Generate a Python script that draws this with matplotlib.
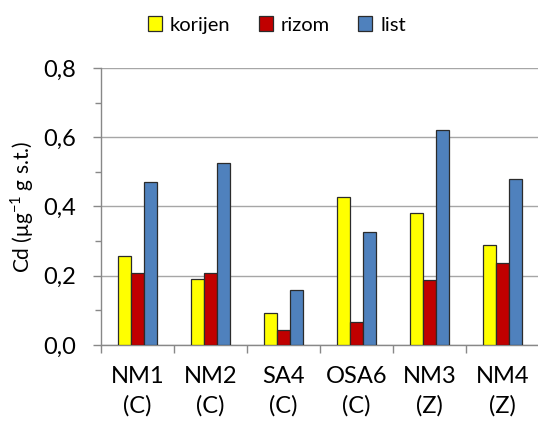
import numpy as np
import matplotlib
matplotlib.use('Agg')
from matplotlib import pyplot as plt
from matplotlib.ticker import MultipleLocator, FuncFormatter

plt.rcParams['font.family'] = ['Lato', 'DejaVu Sans']

categories = ['NM1\n(C)', 'NM2\n(C)', 'SA4\n(C)', 'OSA6\n(C)', 'NM3\n(Z)', 'NM4\n(Z)']
korijen = [0.256, 0.190, 0.093, 0.427, 0.382, 0.290]
rizom = [0.208, 0.208, 0.043, 0.067, 0.188, 0.237]
list_ = [0.472, 0.525, 0.158, 0.326, 0.621, 0.479]
series = [('korijen', korijen, '#FFFF00'),
          ('rizom', rizom, '#C00000'),
          ('list', list_, '#4F81BD')]

fig = plt.figure(figsize=(5.38, 4.24), dpi=100)
ax = fig.add_axes([101/538, 1 - 345/424, 438/538, 277/424])

x = np.arange(len(categories))
w = 0.182
for i, (name, vals, col) in enumerate(series):
    ax.bar(x + (i - 1) * w, vals, w, color=col, edgecolor='#2b2b2b',
           linewidth=0.9, label=name, zorder=3)

ax.set_xlim(-0.5, len(categories) - 0.5)
ax.set_ylim(0, 0.8)
ax.yaxis.set_major_locator(MultipleLocator(0.2))
ax.yaxis.set_minor_locator(MultipleLocator(0.1))
ax.yaxis.set_major_formatter(FuncFormatter(lambda v, p: f'{v:.1f}'.replace('.', ',')))
ax.grid(axis='y', color='#a6a6a6', linewidth=1.0, zorder=0)

# category labels centred, tick marks at group boundaries
ax.set_xticks(x)
ax.set_xticklabels(categories, fontsize=17, linespacing=1.45)
ax.tick_params(axis='x', which='major', length=0, pad=15)
ax.set_xticks(np.arange(len(categories) + 1) - 0.5, minor=True)
ax.tick_params(axis='x', which='minor', length=6, color='#888888', width=1)
ax.tick_params(axis='y', which='major', length=6, color='#888888', width=1,
               labelsize=17, direction='out', pad=12)
ax.tick_params(axis='y', which='minor', length=4, color='#888888', width=1)

for s in ['top', 'right']:
    ax.spines[s].set_visible(False)
for s in ['left', 'bottom']:
    ax.spines[s].set_color('#888888')
    ax.spines[s].set_linewidth(1)

ax.set_ylabel('Cd (μg$^{\\mathregular{-1}}$ g s.t.)', fontsize=15, labelpad=5)

fig.legend(loc='center', bbox_to_anchor=(277/538, 1 - 25/424), ncol=3,
           frameon=False, fontsize=14.5, handlelength=0.7, handleheight=0.7,
           handletextpad=0.4, columnspacing=1.4)

plt.savefig('out.png', dpi=100)
